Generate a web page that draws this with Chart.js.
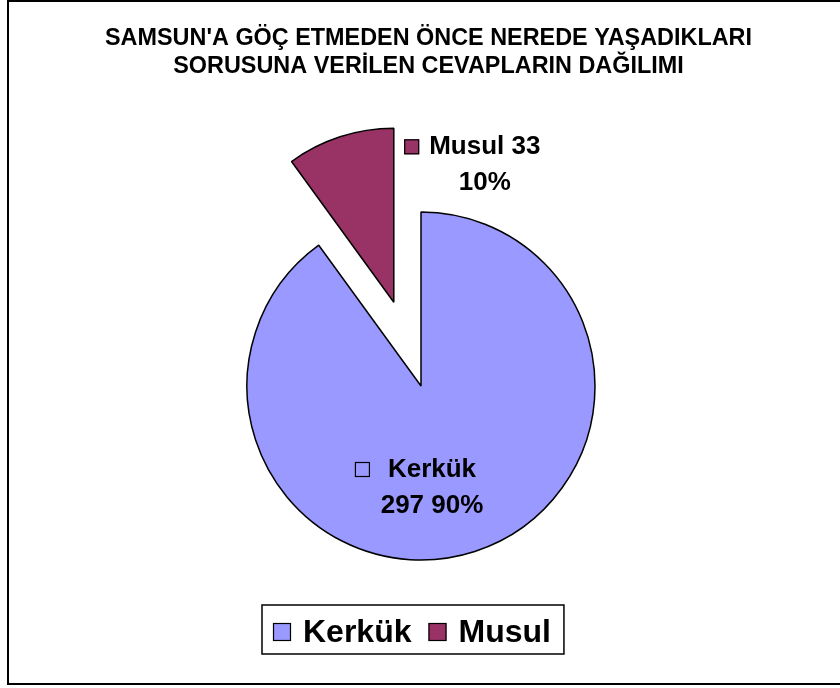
<!DOCTYPE html>
<html>
<head>
<meta charset="utf-8">
<script src="https://cdn.jsdelivr.net/npm/chart.js@4"></script>
<style>
  html, body { margin: 0; padding: 0; background: #fff; }
  canvas { display: block; }
</style>
</head>
<body>
<canvas id="chart" width="840" height="688"></canvas>
<script>
// data
const titleLines = ["SAMSUN'A GÖÇ ETMEDEN ÖNCE NEREDE YAŞADIKLARI", 'SORUSUNA VERİLEN CEVAPLARIN DAĞILIMI'];
const categories = ['Kerkük', 'Musul'];
const counts = [297, 33];
const percents = ['90%', '10%'];

// styles
const colors = ['#9999FF', '#993366'];
const explode = [0, 88];
const FONT = '"Liberation Sans", Arial, sans-serif';

// label placement relative to the (exploded) slice centre
const labelSpots = [
    { dx: 11, dy: 91, lines: i => [categories[i], counts[i] + ' ' + percents[i]], keyGap: 33 },
    { dx: 91, dy: -148, lines: i => [categories[i] + ' ' + counts[i], percents[i]], keyGap: 25 }
];

function midAngle(arc) {
    return (arc.startAngle + arc.endAngle) / 2;
}

const explodePlugin = {
    id: 'explode',
    beforeDatasetDraw(chart, args) {
        const ctx = chart.ctx;
        args.meta.data.forEach((arc, i) => {
            const d = explode[i] || 0;
            const a = midAngle(arc);
            ctx.save();
            ctx.translate(Math.cos(a) * d, Math.sin(a) * d);
            arc.draw(ctx);
            ctx.restore();
        });
        return false;
    }
};

const decorPlugin = {
    id: 'decor',
    afterDraw(chart) {
        const ctx = chart.ctx;
        ctx.save();

        // outer frame
        ctx.strokeStyle = '#000';
        ctx.lineWidth = 2;
        ctx.strokeRect(8, 1, 840, 683);

        // title
        ctx.fillStyle = '#000';
        ctx.font = 'bold 24px ' + FONT;
        ctx.textBaseline = 'alphabetic';
        ctx.textAlign = 'center';
        const sx = 647 / ctx.measureText(titleLines[0]).width;
        titleLines.forEach((t, i) => {
            ctx.save();
            ctx.translate(428.5, 45 + i * 28);
            ctx.scale(sx, 1);
            ctx.fillText(t, 0, 0);
            ctx.restore();
        });

        // data labels
        const meta = chart.getDatasetMeta(0);
        ctx.font = 'bold 26px ' + FONT;
        meta.data.forEach((arc, i) => {
            const d = explode[i] || 0;
            const a = midAngle(arc);
            const spot = labelSpots[i];
            const cx = arc.x + Math.cos(a) * d + spot.dx;
            const cy = arc.y + Math.sin(a) * d + spot.dy;
            const lines = spot.lines(i);
            ctx.textAlign = 'center';
            ctx.fillStyle = '#000';
            lines.forEach((t, j) => ctx.fillText(t, cx, cy + j * 36));
            const left = cx - ctx.measureText(lines[0]).width / 2;
            ctx.fillStyle = colors[i];
            ctx.fillRect(left - spot.keyGap, cy - 15, 15, 15);
            ctx.lineWidth = 1.2;
            ctx.strokeStyle = '#000';
            ctx.strokeRect(left - spot.keyGap + 0.5, cy - 14.5, 14, 14);
        });

        // legend
        ctx.font = 'bold 32px ' + FONT;
        ctx.textAlign = 'left';
        const boxLeft = 262, boxTop = 605, boxH = 49;
        let x = boxLeft + 11;
        categories.forEach((c, i) => {
            ctx.fillStyle = colors[i];
            ctx.fillRect(x, 623, 18, 18);
            ctx.strokeStyle = '#000';
            ctx.lineWidth = 1.2;
            ctx.strokeRect(x + 0.5, 623.5, 17, 17);
            x += 30;
            ctx.fillStyle = '#000';
            ctx.fillText(c, x, 642);
            x += ctx.measureText(c).width + 17;
        });
        ctx.lineWidth = 1.5;
        ctx.strokeRect(boxLeft, boxTop, x - 17 + 13 - boxLeft, boxH);

        ctx.restore();
    }
};

new Chart(document.getElementById('chart'), {
    type: 'pie',
    data: {
        labels: categories,
        datasets: [{
            data: counts,
            backgroundColor: colors,
            borderColor: '#000',
            borderWidth: 1.5
        }]
    },
    options: {
        responsive: false,
        animation: false,
        events: [],
        radius: 174,
        layout: { padding: { left: 2, right: 0, top: 84, bottom: 0 } },
        plugins: {
            legend: { display: false },
            title: { display: false },
            tooltip: { enabled: false }
        }
    },
    plugins: [explodePlugin, decorPlugin]
});
</script>
</body>
</html>
